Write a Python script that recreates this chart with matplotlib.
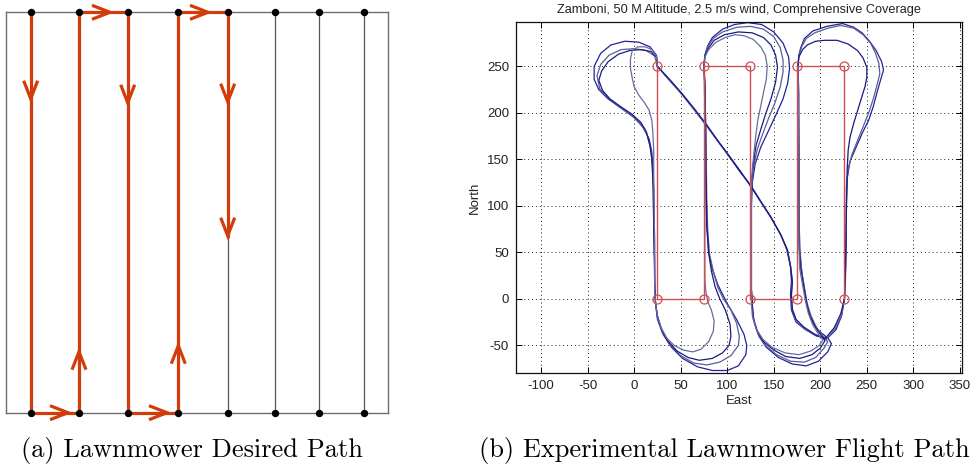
import matplotlib
matplotlib.use("Agg")
import matplotlib.pyplot as plt

plt.rcParams['axes.unicode_minus'] = False

# ---------------- (a) desired lawnmower path ----------------
field_width = 382.3
field_height = 400.4
lane_x = [24.7, 73.0, 121.7, 172.3, 221.7, 269.3, 313.3, 357.7]
path_lanes = 5
path_end_y = 177.0
down_arrow_lanes = [0, 2, 4, 4]
down_arrow_y = [314.0, 310.0, 311.0, 177.0]
up_arrow_lanes = [1, 3]
up_arrow_y = [61.0, 67.0]
top_arrow_x = [104.0, 202.0]
bottom_arrow_x = [62.0, 161.0]

# ---------------- (b) experimental flight path ----------------
wp_east = [25, 25, 75, 75, 125, 125, 175, 175, 225, 225]
wp_north = [250, 0, 0, 250, 250, 0, 0, 250, 250, 0]

lap1 = [(25,250),(24,262),(17,271),(5,276),(-10,277),(-25,273),(-36,264),(-43,250),(-43,236),(-38,225),
        (-28,215),(-14,205),(0,195),(10,184),(16,172),(19,158),(20,140),(21,120),
        (21,80),(22,40),(22,10),(23,-5),
        (25,-22),(31,-38),(40,-52),(52,-64),(68,-73),(84,-77),(100,-77),(112,-72),(120,-60),(121,-50),
        (118,-38),(110,-22),(100,-5),(90,15),(84,32),(80,50),(78,80),(77,120),
        (77,180),(76,230),(75,250),
        (76,262),(79,272),(84,281),(95,290),(108,295),(122,297),(137,295),(150,287),(160,275),(166,260),
        (167,248),(165,232),(160,215),(152,197),(144,180),(136,163),(130,145),(127,125),(126,100),
        (126,50),(126,10),(127,-10),
        (129,-25),(134,-40),(142,-52),(155,-63),(170,-70),(185,-72),(198,-67),(208,-57),(212,-48),(208,-42),
        (198,-34),(190,-22),(186,-8),(183,10),(180,30),(178,50),(177,90),
        (177,150),(177,220),(176,250),
        (177,262),(179,270),(183,280),(192,288),(207,293),(224,296),(236,292),(245,286),(253,277),(260,267),
        (266,255),(268,246),(265,236),(261,222),(257,207),(252,192),(245,178),(238,162),(232,148),(229,130),
        (228,100),(228,60),(227,20),(226,0),
        (223,-18),(217,-33),(208,-42),(196,-40),(184,-33),(174,-25),(169,-12),(168,5),(169,20),(168,35),
        (164,53),(158,68),(147,88),(136,105),(126,121),(112,139),(100,156),(88,172),(76,189),(62,207),
        (50,222),(37,236),(25,250)]

lap2 = [(25,250),(22,261),(13,267),(0,269),(-14,268),(-27,262),(-36,252),(-40,240),(-37,226),(-28,216),
        (-15,206),(-2,197),(8,187),(14,176),(18,160),(20,140),(21,115),
        (22,60),(22,10),(23,-5),
        (25,-20),(30,-35),(38,-49),(50,-61),(64,-69),(78,-71),(92,-68),(104,-61),(112,-50),(113,-40),
        (110,-26),(104,-12),(96,0),(90,12),(85,30),(81,48),(79,75),(78,110),
        (77,180),(76,230),(75,250),
        (76,262),(79,271),(85,280),(95,287),(110,292),(125,293),(139,290),(150,282),(157,270),(160,257),
        (160,244),(157,228),(151,210),(144,193),(138,177),(132,160),(128,140),(126,120),
        (126,60),(126,10),(127,-8),
        (128,-22),(133,-37),(141,-50),(153,-60),(168,-67),(183,-68),(195,-63),(204,-53),(208,-46),(203,-40),
        (196,-31),(190,-18),(186,-5),(183,12),(180,30),(178,55),(177,100),
        (177,160),(176,250),
        (177,262),(180,271),(185,280),(194,286),(208,291),(222,294),(236,291),(246,284),(254,275),(259,265),
        (263,253),(264,242),(261,230),(257,215),(252,200),(246,185),(240,170),(234,155),(230,140),(228,120),
        (228,80),(227,30),(226,0),
        (223,-17),(216,-32),(207,-43),(195,-39),(183,-32),(174,-24),(170,-12),(169,5),(170,20),(168,36),
        (164,54),(157,70),(146,89),(135,106),(125,122),(113,139),(101,155),(89,171),(77,187),(63,205),
        (51,220),(38,235),(25,250)]

lap3 = [(25,250),(24,260),(18,266),(7,268),(-5,267),(-17,263),(-28,255),(-35,245),(-38,235),(-34,224),
        (-26,215),(-15,207),(-3,199),(7,190),(13,180),(17,165),(19,150),(20,130),
        (21,80),(22,20),(23,-5),
        (25,-18),(29,-32),(36,-45),(46,-56),(58,-63),(70,-66),(84,-64),(95,-58),(102,-50),(104,-40),
        (103,-27),(98,-12),(92,0),(87,13),(83,30),(80,50),(78,80),
        (77,150),(76,230),(75,250),
        (76,261),(80,270),(86,278),(97,284),(112,287),(127,286),(139,281),(147,273),(152,262),(154,249),
        (152,233),(147,215),(141,198),(136,182),(131,165),(128,145),(126,125),
        (126,60),(126,10),(127,-6),
        (128,-20),(132,-34),(139,-46),(150,-55),(163,-62),(178,-64),(191,-60),(200,-53),(205,-45),(200,-38),
        (194,-29),(188,-16),(185,-3),(182,14),(179,32),(177,60),
        (177,140),(176,250),
        (177,260),(181,268),(186,273),(195,277),(205,278),(218,278),(230,274),(240,267),(246,259),(250,249),
        (250,238),(248,228),(244,215),(240,202),(236,189),(232,174),(230,160),(229,140),
        (228,90),(227,30),(226,0),
        (222,-16),(215,-31),(205,-43),(194,-38),(182,-30),(174,-22),(170,-11),(169,4),(170,18),(168,35),
        (165,52),(158,68),(148,86),(137,103),(126,120),(114,137),(102,154),(90,170),(78,187),(65,204),
        (52,220),(39,235),(25,250)]

lap4 = [(25,250),(24,261),(19,268),(12,271),(4,271),(-2,267),(-4,258),(-4,248),(-2,237),(0,228),
        (5,219),(11,211),(16,203),(19,192),(20,180),(21,160),(21,130),
        (22,60),(22,10),(23,-5),
        (25,-18),(29,-31),(35,-42),(43,-50),(53,-55),(63,-57),(72,-54),(80,-46),(85,-35),(86,-24),
        (83,-12),(79,-3),(77,8),(76,20),(76,35),
        (76,100),(76,200),(75,250),
        (76,260),(80,268),(88,276),(98,281),(108,284),(118,283),(128,279),(136,271),(141,262),(143,250),
        (142,236),(139,222),(136,207),(133,193),(131,178),(129,160),(127,140),(126,120),
        (126,60),(126,10),(126,-5),
        (127,-18),(131,-32),(138,-43),(148,-52),(162,-58),(177,-60),(190,-56),(199,-50),(203,-44),(198,-38),
        (192,-28),(187,-15),(184,-2),(181,15),(178,32),(177,60),
        (177,150),(176,250)]

laps = [lap1, lap2, lap3, lap4]
lap_colors = ['#22229a', '#5c5c98', '#1a1a80', '#6a6aa2']

x_ticks = [-100, -50, 0, 50, 100, 150, 200, 250, 300, 350]
y_ticks = [-50, 0, 50, 100, 150, 200, 250]
title_b = 'Zamboni, 50 M Altitude, 2.5 m/s wind, Comprehensive Coverage'
caption_a = '(a) Lawnmower Desired Path'
caption_b = '(b) Experimental Lawnmower Flight Path'

W, H = 972, 465
fig = plt.figure(figsize=(W / 100, H / 100), dpi=100)

# ---- left panel ----
axL = fig.add_axes([6 / W, (H - 412.7) / H, 382.3 / W, 400.4 / H])
axL.set_xlim(0, field_width)
axL.set_ylim(0, field_height)
axL.set_xticks([])
axL.set_yticks([])
for s in axL.spines.values():
    s.set_color('#6e6e6e')
    s.set_linewidth(1.0)
axL.vlines(lane_x, 0, field_height, color='#555555', lw=0.9, zorder=1)

red = '#d23c0a'
px, py = [], []
for i in range(path_lanes):
    y0 = field_height if i % 2 == 0 else 0
    y1 = 0 if i % 2 == 0 else field_height
    if i == path_lanes - 1:
        y1 = path_end_y
    px += [lane_x[i], lane_x[i]]
    py += [y0, y1]
axL.plot(px, py, color=red, lw=2.3, solid_joinstyle='miter', zorder=3, clip_on=False)

L, Wd = 18.0, 7.0
def chevron(ax, tx, ty, dx, dy):
    bx, by = tx - dx * L, ty - dy * L
    nx, ny = -dy * Wd, dx * Wd
    ax.plot([bx + nx, tx, bx - nx], [by + ny, ty, by - ny], color=red, lw=2.3,
            solid_joinstyle='miter', solid_capstyle='butt', zorder=4, clip_on=False)

for ln, y in zip(down_arrow_lanes, down_arrow_y):
    chevron(axL, lane_x[ln], y, 0, -1)
for ln, y in zip(up_arrow_lanes, up_arrow_y):
    chevron(axL, lane_x[ln], y, 0, 1)
for x in top_arrow_x:
    chevron(axL, x, field_height, 1, 0)
for x in bottom_arrow_x:
    chevron(axL, x, 0, 1, 0)

axL.plot(lane_x, [0] * len(lane_x), 'o', color='k', ms=4.3, clip_on=False, zorder=5)
axL.plot(lane_x, [field_height] * len(lane_x), 'o', color='k', ms=4.3, clip_on=False, zorder=5)

# ---- right panel ----
axR = fig.add_axes([516 / W, (H - 373.3) / H, 445.7 / W, 351.6 / H])
axR.set_xlim(-127, 352)
axR.set_ylim(-80, 298)
axR.set_xticks(x_ticks)
axR.set_yticks(y_ticks)
axR.grid(True, color='#222222', linestyle=(0, (1, 3)), lw=0.7)
axR.set_axisbelow(True)
axR.tick_params(direction='in', top=True, right=True, length=4, width=0.7,
                labelsize=9.5, pad=5)
for lbl in axR.get_xticklabels() + axR.get_yticklabels():
    lbl.set_fontfamily('Liberation Sans')
    lbl.set_color('#222222')
for s in axR.spines.values():
    s.set_linewidth(0.9)
    s.set_color('#111111')

for lap, c in zip(laps, lap_colors):
    e = [p[0] for p in lap]
    n = [p[1] for p in lap]
    axR.plot(e, n, color=c, lw=0.9, zorder=2)

axR.plot(wp_east, wp_north, color='#d05050', lw=1.0, zorder=3)
axR.plot(wp_east, wp_north, 'o', mfc='none', mec='#d05050', mew=0.9, ms=6.5, zorder=4)

axR.set_title(title_b, fontsize=9.2, family='Liberation Sans', color='#222222', pad=6)
axR.set_xlabel('East', fontsize=9.5, family='Liberation Sans', color='#222222', labelpad=2)
axR.set_ylabel('North', fontsize=9.5, family='Liberation Sans', color='#222222', labelpad=4)

fig.text(192 / W, 1 - 450 / H, caption_a, ha='center', va='center', family='cmr10', fontsize=19)
fig.text(724 / W, 1 - 450 / H, caption_b, ha='center', va='center', family='cmr10', fontsize=19)

fig.savefig('out.png', dpi=100)
